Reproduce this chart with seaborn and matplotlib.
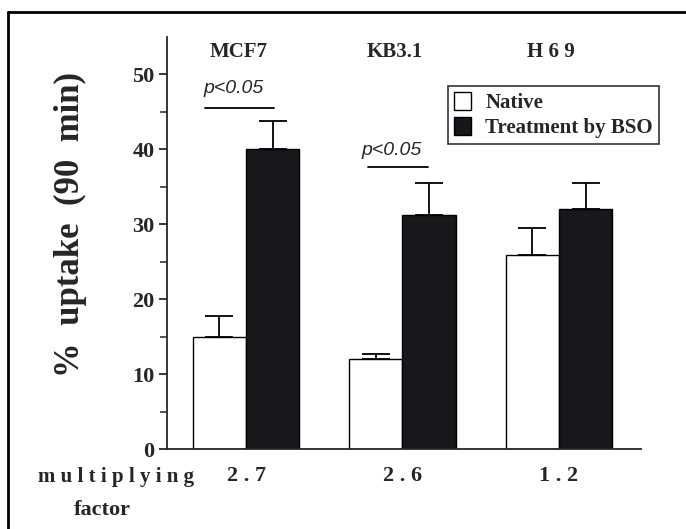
import matplotlib
matplotlib.use("Agg")
import matplotlib.pyplot as plt
import seaborn as sns
import pandas as pd
from matplotlib.lines import Line2D
from matplotlib.patches import Patch

# values
cells = ["MCF7", "KB3.1", "H69"]
factors = ["2.7", "2.6", "1.2"]
native = [15.0, 12.0, 25.9]
native_err = [2.7, 0.7, 3.6]
bso = [40.0, 31.2, 32.0]
bso_err = [3.8, 4.3, 3.5]
groups = ["Native", "Treatment by BSO"]

df = pd.DataFrame({
    "cell": cells * 2,
    "group": [groups[0]] * 3 + [groups[1]] * 3,
    "uptake": native + bso,
})

sns.set_style("ticks")
plt.rcParams["font.family"] = ["Liberation Serif", "DejaVu Serif"]
plt.rcParams["font.weight"] = "bold"

fig = plt.figure(figsize=(6.86, 5.29), dpi=100)
ax = fig.add_axes([0.2434, 0.1512, 0.691, 0.7788])

sns.barplot(data=df, x="cell", y="uptake", hue="group", order=cells,
            hue_order=groups, palette=["white", "#16161d"], width=0.68,
            edgecolor="black", linewidth=1.0, errorbar=None, legend=False, ax=ax)

# upper-only error bars
for cont, errs in zip(ax.containers, [native_err, bso_err]):
    xs = [p.get_x() + p.get_width() / 2 for p in cont.patches]
    ys = [p.get_height() for p in cont.patches]
    ax.errorbar(xs, ys, yerr=[[0] * len(errs), errs], fmt="none",
                ecolor="black", elinewidth=1.3, capsize=10, capthick=1.3)

ax.set_xlim(-0.505, 2.524)
ax.set_ylim(0, 55)
ax.set_yticks([0, 10, 20, 30, 40, 50])
ax.set_yticks([5, 15, 25, 35, 45], minor=True)
ax.tick_params(axis="y", which="major", length=6, width=1.3, labelsize=16, pad=3)
ax.tick_params(axis="y", which="minor", length=5, width=1.1)
ax.set_xticks([0, 1, 2])
ax.set_xticklabels([" ".join(f) for f in factors], fontsize=16, fontweight="bold")
ax.tick_params(axis="x", length=0, pad=12)
ax.set_xlabel("")
ax.set_ylabel("")
sns.despine(ax=ax)
for s in ["left", "bottom"]:
    ax.spines[s].set_linewidth(1.3)

# cell line names on top
tops = ["MCF7", "KB3.1", "H 6 9"]
for i, c in enumerate(tops):
    ax.text(i - 0.05, 53, c, ha="center", va="center", fontsize=15, fontweight="bold")

# significance marks
ax.plot([-0.26, 0.18], [45.5, 45.5], color="black", lw=1.3)
ax.text(-0.08, 48.1, "p<0.05", ha="center", va="center", fontsize=14,
        fontweight="normal", style="italic", family="Liberation Sans")
ax.plot([0.78, 1.16], [37.7, 37.7], color="black", lw=1.3)
ax.text(0.93, 39.9, "p<0.05", ha="center", va="center", fontsize=14,
        fontweight="normal", style="italic", family="Liberation Sans")

# legend
handles = [Patch(facecolor="white", edgecolor="black", linewidth=1.0),
           Patch(facecolor="#16161d", edgecolor="black")]
leg = fig.legend(handles, groups, loc="upper left",
                 bbox_to_anchor=(448 / 686, 1 - 86 / 529), frameon=True,
                 fancybox=False, edgecolor="black", fontsize=15,
                 handlelength=0.8, handleheight=0.9, handletextpad=0.7,
                 borderpad=0.3, labelspacing=0.2, borderaxespad=0)
leg.get_frame().set_linewidth(1.2)
for t in leg.get_texts():
    t.set_fontweight("bold")

# axis titles
fig.text(70 / 686, 0.575, "%  uptake  (90  min)", rotation=90, ha="center",
         va="center", fontsize=25, fontweight="bold")
fig.text(116 / 686, 1 - 477 / 529, "m u l t i p l y i n g", ha="center",
         va="center", fontsize=15, fontweight="bold")
fig.text(102 / 686, 1 - 510 / 529, "factor", ha="center", va="center",
         fontsize=16, fontweight="bold")

# outer frame (left and top edges)
fig.add_artist(Line2D([8 / 686, 8 / 686], [0, 1 - 12 / 529], color="black", lw=2))
fig.add_artist(Line2D([8 / 686, 1], [1 - 12 / 529, 1 - 12 / 529], color="black", lw=2))

fig.savefig("out.png", dpi=100)
